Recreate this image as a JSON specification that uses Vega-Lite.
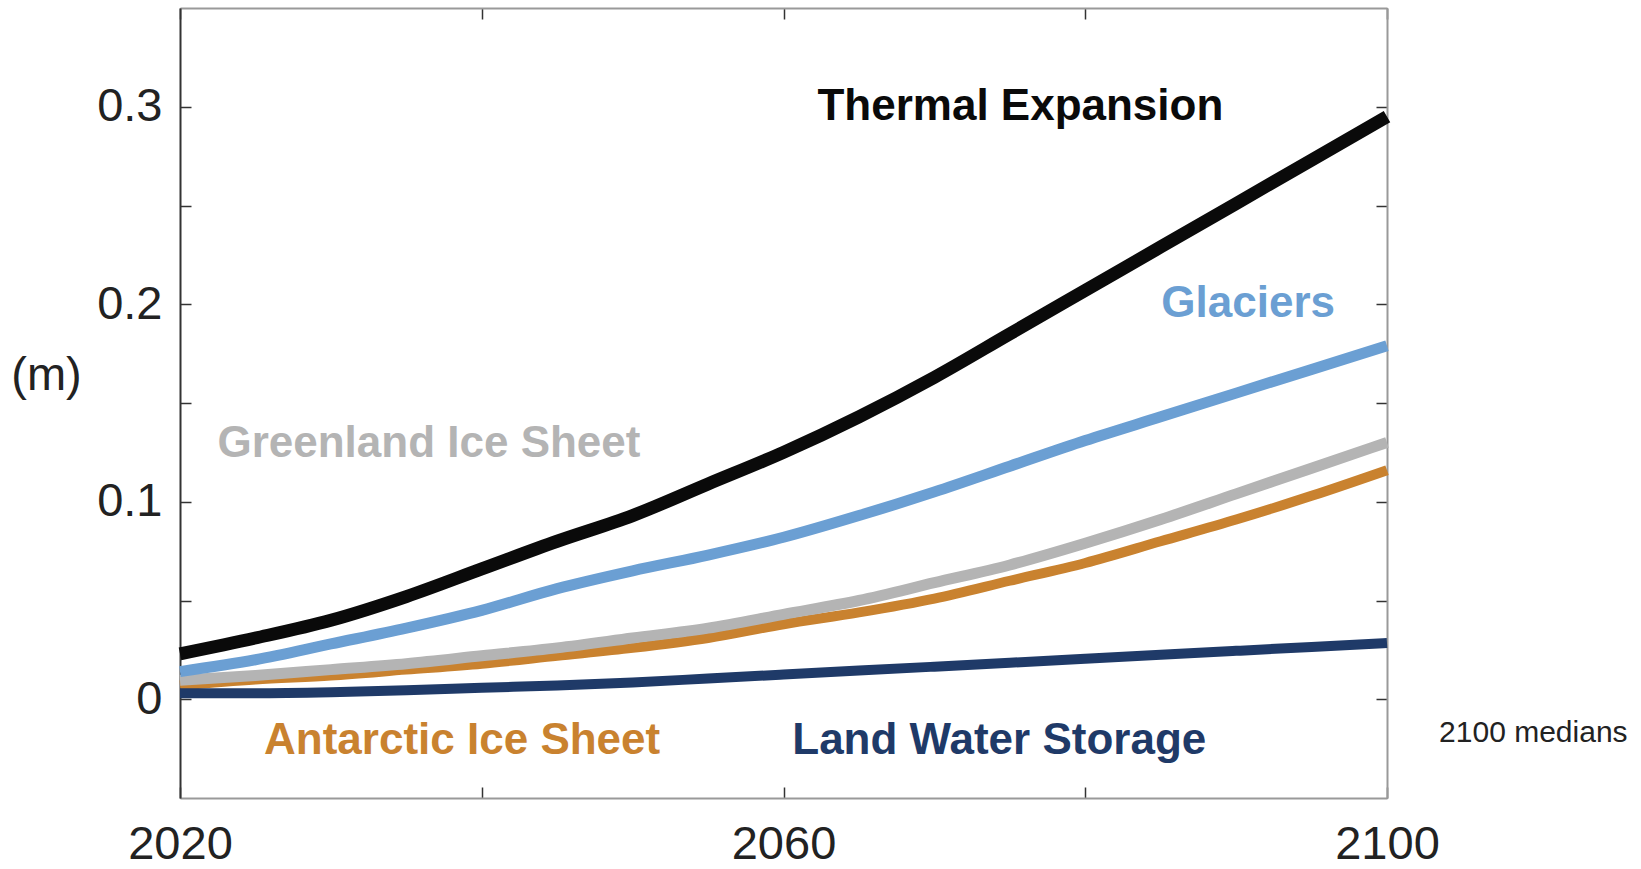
{
  "$schema": "https://vega.github.io/schema/vega-lite/v6.json",
  "width": 1207,
  "height": 790,
  "autosize": {"type": "none"},
  "padding": {"left": 180, "top": 8, "right": 254, "bottom": 71},
  "background": "white",
  "config": {
    "view": {"stroke": null},
    "font": "Liberation Sans",
    "axis": {
      "grid": false,
      "tickColor": "#333333",
      "tickWidth": 1.5,
      "tickSize": -11,
      "domainColor": "#999999",
      "domainWidth": 2,
      "labelFont": "Liberation Sans",
      "labelFontSize": 47,
      "labelColor": "#222222",
      "labelFlush": false
    }
  },
  "datasets": {
    "medians": [
      {"series": "Antarctic Ice Sheet", "year": 2020, "value": 0.007},
      {"series": "Antarctic Ice Sheet", "year": 2025, "value": 0.010},
      {"series": "Antarctic Ice Sheet", "year": 2030, "value": 0.012},
      {"series": "Antarctic Ice Sheet", "year": 2035, "value": 0.015},
      {"series": "Antarctic Ice Sheet", "year": 2040, "value": 0.018},
      {"series": "Antarctic Ice Sheet", "year": 2045, "value": 0.022},
      {"series": "Antarctic Ice Sheet", "year": 2050, "value": 0.026},
      {"series": "Antarctic Ice Sheet", "year": 2055, "value": 0.031},
      {"series": "Antarctic Ice Sheet", "year": 2060, "value": 0.038},
      {"series": "Antarctic Ice Sheet", "year": 2065, "value": 0.044},
      {"series": "Antarctic Ice Sheet", "year": 2070, "value": 0.051},
      {"series": "Antarctic Ice Sheet", "year": 2075, "value": 0.060},
      {"series": "Antarctic Ice Sheet", "year": 2080, "value": 0.069},
      {"series": "Antarctic Ice Sheet", "year": 2085, "value": 0.080},
      {"series": "Antarctic Ice Sheet", "year": 2090, "value": 0.091},
      {"series": "Antarctic Ice Sheet", "year": 2095, "value": 0.103},
      {"series": "Antarctic Ice Sheet", "year": 2100, "value": 0.116},
      {"series": "Greenland Ice Sheet", "year": 2020, "value": 0.0096},
      {"series": "Greenland Ice Sheet", "year": 2025, "value": 0.012},
      {"series": "Greenland Ice Sheet", "year": 2030, "value": 0.015},
      {"series": "Greenland Ice Sheet", "year": 2035, "value": 0.018},
      {"series": "Greenland Ice Sheet", "year": 2040, "value": 0.022},
      {"series": "Greenland Ice Sheet", "year": 2045, "value": 0.026},
      {"series": "Greenland Ice Sheet", "year": 2050, "value": 0.031},
      {"series": "Greenland Ice Sheet", "year": 2055, "value": 0.036},
      {"series": "Greenland Ice Sheet", "year": 2060, "value": 0.043},
      {"series": "Greenland Ice Sheet", "year": 2065, "value": 0.050},
      {"series": "Greenland Ice Sheet", "year": 2070, "value": 0.059},
      {"series": "Greenland Ice Sheet", "year": 2075, "value": 0.068},
      {"series": "Greenland Ice Sheet", "year": 2080, "value": 0.079},
      {"series": "Greenland Ice Sheet", "year": 2085, "value": 0.091},
      {"series": "Greenland Ice Sheet", "year": 2090, "value": 0.104},
      {"series": "Greenland Ice Sheet", "year": 2095, "value": 0.117},
      {"series": "Greenland Ice Sheet", "year": 2100, "value": 0.130},
      {"series": "Land Water Storage", "year": 2020, "value": 0.003},
      {"series": "Land Water Storage", "year": 2025, "value": 0.003},
      {"series": "Land Water Storage", "year": 2030, "value": 0.0035},
      {"series": "Land Water Storage", "year": 2035, "value": 0.0045},
      {"series": "Land Water Storage", "year": 2040, "value": 0.0058},
      {"series": "Land Water Storage", "year": 2045, "value": 0.007},
      {"series": "Land Water Storage", "year": 2050, "value": 0.0085},
      {"series": "Land Water Storage", "year": 2055, "value": 0.0105},
      {"series": "Land Water Storage", "year": 2060, "value": 0.0125},
      {"series": "Land Water Storage", "year": 2065, "value": 0.0145},
      {"series": "Land Water Storage", "year": 2070, "value": 0.0165},
      {"series": "Land Water Storage", "year": 2075, "value": 0.0185},
      {"series": "Land Water Storage", "year": 2080, "value": 0.0205},
      {"series": "Land Water Storage", "year": 2085, "value": 0.0225},
      {"series": "Land Water Storage", "year": 2090, "value": 0.0245},
      {"series": "Land Water Storage", "year": 2095, "value": 0.0265},
      {"series": "Land Water Storage", "year": 2100, "value": 0.0285},
      {"series": "Glaciers", "year": 2020, "value": 0.014},
      {"series": "Glaciers", "year": 2025, "value": 0.020},
      {"series": "Glaciers", "year": 2030, "value": 0.028},
      {"series": "Glaciers", "year": 2035, "value": 0.036},
      {"series": "Glaciers", "year": 2040, "value": 0.045},
      {"series": "Glaciers", "year": 2045, "value": 0.056},
      {"series": "Glaciers", "year": 2050, "value": 0.065},
      {"series": "Glaciers", "year": 2055, "value": 0.073},
      {"series": "Glaciers", "year": 2060, "value": 0.082},
      {"series": "Glaciers", "year": 2065, "value": 0.093},
      {"series": "Glaciers", "year": 2070, "value": 0.105},
      {"series": "Glaciers", "year": 2075, "value": 0.118},
      {"series": "Glaciers", "year": 2080, "value": 0.131},
      {"series": "Glaciers", "year": 2085, "value": 0.143},
      {"series": "Glaciers", "year": 2090, "value": 0.155},
      {"series": "Glaciers", "year": 2095, "value": 0.167},
      {"series": "Glaciers", "year": 2100, "value": 0.179},
      {"series": "Thermal Expansion", "year": 2020, "value": 0.023},
      {"series": "Thermal Expansion", "year": 2025, "value": 0.031},
      {"series": "Thermal Expansion", "year": 2030, "value": 0.040},
      {"series": "Thermal Expansion", "year": 2035, "value": 0.052},
      {"series": "Thermal Expansion", "year": 2040, "value": 0.066},
      {"series": "Thermal Expansion", "year": 2045, "value": 0.080},
      {"series": "Thermal Expansion", "year": 2050, "value": 0.093},
      {"series": "Thermal Expansion", "year": 2055, "value": 0.109},
      {"series": "Thermal Expansion", "year": 2060, "value": 0.125},
      {"series": "Thermal Expansion", "year": 2065, "value": 0.143},
      {"series": "Thermal Expansion", "year": 2070, "value": 0.163},
      {"series": "Thermal Expansion", "year": 2075, "value": 0.185},
      {"series": "Thermal Expansion", "year": 2080, "value": 0.207},
      {"series": "Thermal Expansion", "year": 2085, "value": 0.229},
      {"series": "Thermal Expansion", "year": 2090, "value": 0.251},
      {"series": "Thermal Expansion", "year": 2095, "value": 0.273},
      {"series": "Thermal Expansion", "year": 2100, "value": 0.295}
    ],
    "labels": [
      {"series": "Thermal Expansion", "text": "Thermal Expansion", "year": 2075.7, "value": 0.3},
      {"series": "Glaciers", "text": "Glaciers", "year": 2090.8, "value": 0.2},
      {"series": "Greenland Ice Sheet", "text": "Greenland Ice Sheet", "year": 2036.5, "value": 0.129},
      {"series": "Antarctic Ice Sheet", "text": "Antarctic Ice Sheet", "year": 2038.7, "value": -0.021},
      {"series": "Land Water Storage", "text": "Land Water Storage", "year": 2074.3, "value": -0.021}
    ],
    "note": [
      {"text": "2100 medians", "year": 2109.7, "value": -0.017}
    ]
  },
  "resolve": {"axis": {"x": "independent", "y": "independent"}},
  "layer": [
    {
      "mark": {"type": "rule", "color": "#999999", "strokeWidth": 2},
      "encoding": {
        "y": {
          "datum": 0,
          "type": "quantitative",
          "scale": {"domain": [-0.05, 0.35], "nice": false, "zero": false},
          "axis": {
            "orient": "right",
            "values": [0, 0.05, 0.1, 0.15, 0.2, 0.25, 0.3],
            "labels": false,
            "title": null
          }
        }
      }
    },
    {
      "data": {"name": "medians"},
      "mark": {"type": "line", "interpolate": "monotone", "strokeJoin": "round", "strokeCap": "butt"},
      "encoding": {
        "x": {
          "field": "year",
          "type": "quantitative",
          "scale": {"domain": [2020, 2100], "nice": false, "zero": false},
          "axis": {
            "orient": "bottom",
            "values": [2020, 2040, 2060, 2080, 2100],
            "format": "d",
            "labelExpr": "datum.value % 40 == 20 ? datum.label : ''",
            "labelPadding": 34,
            "title": null
          }
        },
        "y": {
          "field": "value",
          "type": "quantitative",
          "scale": {"domain": [-0.05, 0.35], "nice": false, "zero": false},
          "axis": {
            "orient": "left",
            "values": [0, 0.05, 0.1, 0.15, 0.2, 0.25, 0.3],
            "format": "~g",
            "labelExpr": "round(datum.value * 20) % 2 == 0 ? datum.label : ''",
            "labelPadding": 29,
            "domainColor": "#333333",
            "title": "(m)",
            "titleAngle": 0,
            "titleAlign": "center",
            "titleBaseline": "middle",
            "titleX": -134,
            "titleY": 367,
            "titleFont": "Liberation Sans",
            "titleFontSize": 47,
            "titleFontWeight": "normal",
            "titleColor": "#222222"
          }
        },
        "color": {
          "field": "series",
          "type": "nominal",
          "scale": {
            "domain": ["Antarctic Ice Sheet", "Greenland Ice Sheet", "Land Water Storage", "Glaciers", "Thermal Expansion"],
            "range": ["#c9822f", "#b4b4b4", "#1f3a68", "#6b9fd3", "#0a0a0a"]
          },
          "legend": null
        },
        "strokeWidth": {
          "field": "series",
          "type": "nominal",
          "scale": {
            "type": "ordinal",
            "domain": ["Antarctic Ice Sheet", "Greenland Ice Sheet", "Land Water Storage", "Glaciers", "Thermal Expansion"],
            "range": [10, 11, 10, 11, 13]
          },
          "legend": null
        }
      }
    },
    {
      "data": {"name": "labels"},
      "mark": {"type": "text", "font": "Liberation Sans", "fontWeight": "bold", "fontSize": 44, "align": "center", "baseline": "middle"},
      "encoding": {
        "x": {
          "field": "year",
          "type": "quantitative",
          "axis": {
            "orient": "top",
            "values": [2020, 2040, 2060, 2080, 2100],
            "labels": false,
            "title": null
          }
        },
        "y": {"field": "value", "type": "quantitative", "axis": null},
        "text": {"field": "text"},
        "color": {"field": "series", "type": "nominal", "legend": null}
      }
    },
    {
      "data": {"name": "note"},
      "mark": {"type": "text", "font": "Liberation Sans", "fontSize": 30, "align": "center", "baseline": "middle", "color": "#222222", "clip": false},
      "encoding": {
        "x": {"field": "year", "type": "quantitative", "axis": null},
        "y": {"field": "value", "type": "quantitative", "axis": null},
        "text": {"field": "text"}
      }
    }
  ]
}
